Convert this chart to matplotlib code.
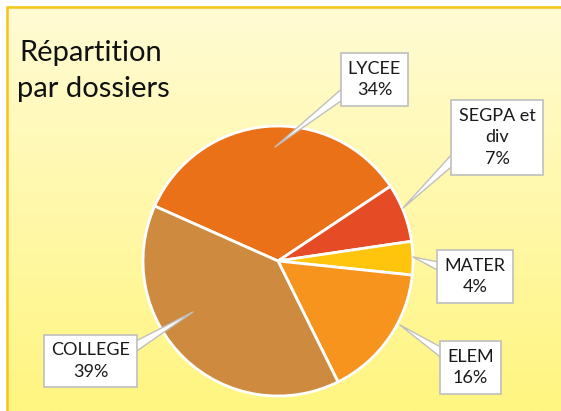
import numpy as np
import matplotlib.pyplot as plt
from matplotlib.colors import LinearSegmentedColormap

W, H = 561, 411

# data
categories = ["LYCEE", "SEGPA et\ndiv", "MATER", "ELEM", "COLLEGE"]
values = [34, 7, 4, 16, 39]
colors = ["#EB7118", "#E54B25", "#FFC40C", "#F7941E", "#CE8B3F"]

# callout layout (pixel coords, y from top): box centre, pointer tip, pointer root on box
box_pos = [(374.5, 79.5), (497, 137.5), (475, 276.5), (470.5, 367.5), (90.5, 361)]
tip_pos = [(275, 147), (403, 208), (413, 257), (400, 325), (193, 312)]
root_rel = [(0, 0.22), (0, 0.22), (0, 0.72), (0, 0.8), (1, 0.8)]

plt.rcParams['font.family'] = ['Lato', 'DejaVu Sans']

fig = plt.figure(figsize=(W / 100, H / 100), dpi=100)
ax = fig.add_axes([0, 0, 1, 1])

# background gradient and frame
cmap = LinearSegmentedColormap.from_list("bg", ["#FFF580", "#FFFBD4"])
grad = np.linspace(0, 1, 256).reshape(-1, 1)
ax.imshow(grad, cmap=cmap, aspect="auto", origin="lower",
          extent=(7, W, 0, H - 7), zorder=0)
ax.plot([7, 7, W], [0, H - 7, H - 7], color="#F5C518", lw=1.8, zorder=1,
        solid_joinstyle="miter")

wedges, _ = ax.pie(values, colors=colors, startangle=156, counterclock=False,
                   center=(278, H - 261), radius=135, frame=True,
                   wedgeprops=dict(edgecolor="white", linewidth=2))
for w in wedges:
    w.set_zorder(2)

total = sum(values)
for name, v, bp, tp, rel in zip(categories, values, box_pos, tip_pos, root_rel):
    ax.annotate(f"{name}\n{v / total * 100:.0f}%",
                xy=(tp[0], H - tp[1]), xytext=(bp[0], H - bp[1]),
                ha="center", va="center", fontsize=13, linespacing=1.45,
                color="#1A1A1A", zorder=5,
                bbox=dict(boxstyle="square,pad=0.4", fc="white",
                          ec="#BFBFBF", lw=1.2),
                arrowprops=dict(arrowstyle="wedge,tail_width=0.55,shrink_factor=0.5",
                                fc="white", ec="#BFBFBF", lw=1,
                                relpos=rel, patchA=None,
                                shrinkA=0, shrinkB=0))

ax.text(19, H - 61, "Répartition", ha="left", va="baseline",
        fontsize=21, color="#111111", zorder=5)
ax.text(17, H - 97, "par dossiers", ha="left", va="baseline",
        fontsize=21, color="#111111", zorder=5)

ax.set_xlim(0, W)
ax.set_ylim(0, H)
ax.set_aspect("auto")
ax.axis("off")

fig.savefig("out.png", dpi=100, facecolor="white")
